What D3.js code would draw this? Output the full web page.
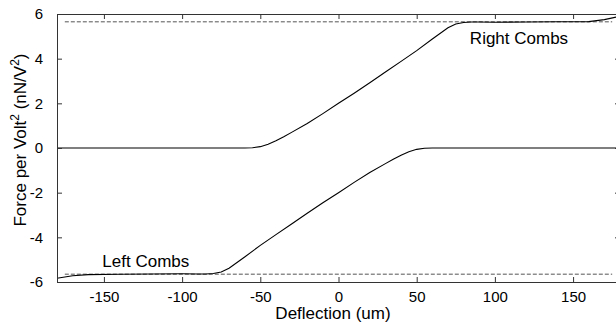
<!DOCTYPE html>
<html>
<head>
<meta charset="utf-8">
<script src="https://cdn.jsdelivr.net/npm/d3@7"></script>
<style>
  body { margin: 0; background: #fff; }
  svg { display: block; font-family: "Liberation Sans", Arial, sans-serif; }
</style>
</head>
<body>
<script>
// deflection (um) and force per volt^2 (nN/V^2)
const rightX = [-180, -60, -55, -50, -45, -40, -35, -30, -20, -10, 0, 10, 20, 30, 40, 50, 60, 70, 75, 80, 85, 90, 100, 120, 140, 160, 170, 180];
const rightY = [0, 0, 0.01, 0.06, 0.17, 0.32, 0.5, 0.7, 1.1, 1.54, 2.0, 2.45, 2.92, 3.4, 3.88, 4.36, 4.88, 5.38, 5.55, 5.62, 5.64, 5.64, 5.63, 5.64, 5.65, 5.66, 5.75, 5.9];

const leftX = [-180, -170, -160, -140, -120, -100, -90, -85, -80, -75, -70, -60, -50, -40, -30, -20, -10, 0, 10, 20, 30, 35, 40, 45, 50, 55, 60, 180];
const leftY = [-5.83, -5.72, -5.67, -5.65, -5.64, -5.63, -5.64, -5.64, -5.62, -5.55, -5.38, -4.88, -4.36, -3.88, -3.4, -2.92, -2.45, -2.0, -1.54, -1.1, -0.7, -0.5, -0.32, -0.17, -0.06, -0.01, 0, 0];

const limitX = [-175, 175];
const limitLevels = [5.65, -5.65];

const xTicks = [-150, -100, -50, 0, 50, 100, 150];
const yTicks = [-6, -4, -2, 0, 2, 4, 6];

const W = 616, H = 322;
const margin = { top: 14, left: 57 };
const plotW = 563, plotH = 268;

const svg = d3.select("body").append("svg")
  .attr("width", W).attr("height", H);

const x = d3.scaleLinear().domain([-180, 180]).range([margin.left, margin.left + plotW]);
const y = d3.scaleLinear().domain([-6, 6]).range([margin.top + plotH, margin.top]);

const line = d3.line().x(d => x(d[0])).y(d => y(d[1]));

// dashed limits
limitLevels.forEach(v => {
  svg.append("path")
    .attr("d", line(limitX.map(xx => [xx, v])))
    .attr("fill", "none").attr("stroke", "#555")
    .attr("stroke-width", 1).attr("stroke-dasharray", "4,2");
});

// curves
svg.append("path")
  .attr("d", line(rightX.map((d, i) => [d, rightY[i]])))
  .attr("fill", "none").attr("stroke", "#000").attr("stroke-width", 1.1);
svg.append("path")
  .attr("d", line(leftX.map((d, i) => [d, leftY[i]])))
  .attr("fill", "none").attr("stroke", "#000").attr("stroke-width", 1.1);

// axes (ticks inward, plain hyphen minus like the original)
const fmt = d => String(d);
const axStyle = g => {
  g.selectAll(".domain").attr("stroke", "#333");
  g.selectAll(".tick line").attr("stroke", "#333");
  g.selectAll("text").attr("font-size", 15).attr("fill", "#000")
    .attr("font-family", "Liberation Sans, Arial, sans-serif");
};

svg.append("g")
  .attr("transform", `translate(0,${y(-6)})`)
  .call(d3.axisBottom(x).tickValues(xTicks).tickFormat(fmt).tickSizeInner(-5).tickSizeOuter(0).tickPadding(9))
  .call(axStyle);
svg.append("g")
  .attr("transform", `translate(0,${y(6)})`)
  .call(d3.axisTop(x).tickValues(xTicks).tickSizeInner(-5).tickSizeOuter(0).tickFormat(""))
  .call(axStyle);
svg.append("g")
  .attr("transform", `translate(${x(-180)},0)`)
  .call(d3.axisLeft(y).tickValues(yTicks).tickFormat(fmt).tickSizeInner(-5).tickSizeOuter(0).tickPadding(14))
  .call(axStyle);
svg.append("g")
  .attr("transform", `translate(${x(180)},0)`)
  .call(d3.axisRight(y).tickValues(yTicks).tickSizeInner(-5).tickSizeOuter(0).tickFormat(""))
  .call(axStyle);

// labels
svg.append("text")
  .attr("x", 333).attr("y", 319)
  .attr("text-anchor", "middle").attr("font-size", 17)
  .text("Deflection (um)");

const yl = svg.append("text")
  .attr("transform", "translate(26,140) rotate(-90)")
  .attr("text-anchor", "middle").attr("font-size", 17);
yl.append("tspan").text("Force per Volt");
yl.append("tspan").attr("font-size", 12).attr("dy", -7).text("2");
yl.append("tspan").attr("dy", 7).text(" (nN/V");
yl.append("tspan").attr("font-size", 12).attr("dy", -7).text("2");
yl.append("tspan").attr("dy", 7).text(")");

svg.append("text")
  .attr("x", x(84)).attr("y", 44)
  .attr("font-size", 17).text("Right Combs");
svg.append("text")
  .attr("x", x(-151)).attr("y", 267)
  .attr("font-size", 17).text("Left Combs");
</script>
</body>
</html>
